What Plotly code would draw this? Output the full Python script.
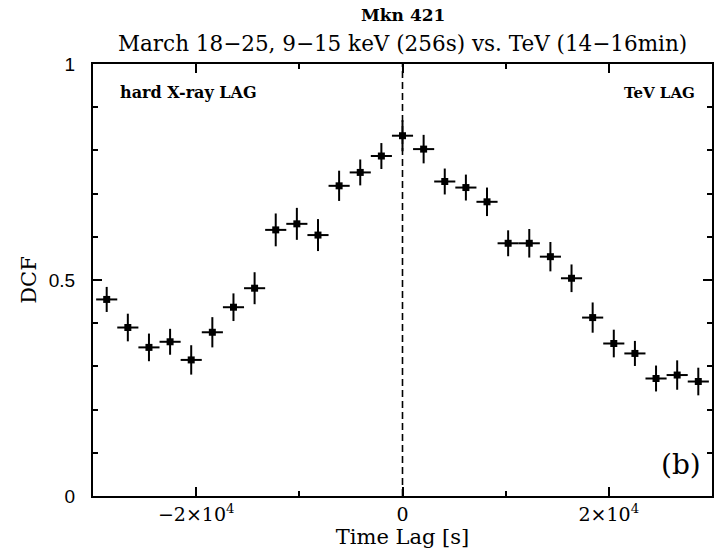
import plotly.graph_objects as go

# DCF between 9-15 keV X-rays and TeV flux, Mkn 421
bin_width = 2048  # seconds per lag bin
lag_index = list(range(-14, 15))
dcf = [0.455, 0.390, 0.344, 0.357, 0.315, 0.379, 0.437, 0.481,
       0.616, 0.630, 0.604, 0.718, 0.749, 0.787, 0.834,
       0.803, 0.728, 0.714, 0.681, 0.585, 0.585, 0.554, 0.504,
       0.413, 0.353, 0.330, 0.272, 0.280, 0.265]
dcf_err = [0.029, 0.032, 0.032, 0.030, 0.034, 0.035, 0.032, 0.037,
           0.038, 0.037, 0.037, 0.035, 0.030, 0.030, 0.036,
           0.033, 0.030, 0.030, 0.033, 0.030, 0.033, 0.034, 0.032,
           0.035, 0.032, 0.029, 0.030, 0.034, 0.032]

lag = [k * bin_width for k in lag_index]
lag_err = [bin_width / 2] * len(lag)

x_major = [-2e4, 0, 2e4]
x_major_text = ["\u22122\u00d710<sup>4</sup>", "0", "2\u00d710<sup>4</sup>"]
x_minor = [-1e4, 1e4]
y_major = [0, 0.5, 1]
y_major_text = ["0", "0.5", "1"]

serif = "DejaVu Serif"

fig = go.Figure()
fig.add_trace(go.Scatter(
    x=lag, y=dcf, mode="markers",
    marker=dict(symbol="square", size=7, color="black"),
    error_x=dict(type="data", array=lag_err, color="black", thickness=2, width=0),
    error_y=dict(type="data", array=dcf_err, color="black", thickness=2, width=0),
    showlegend=False,
))

# zero-lag reference
fig.add_shape(type="line", xref="x", yref="paper", x0=0, x1=0, y0=0, y1=1,
              line=dict(color="black", width=1.6, dash="7px,4px"))

axis_common = dict(showline=True, linewidth=2, linecolor="black", mirror="ticks",
                   ticks="inside", tickwidth=2, tickcolor="black", ticklen=9,
                   showgrid=False, zeroline=False)

fig.update_xaxes(range=[-3e4, 3e4], tickmode="array", tickvals=x_major,
                 ticktext=x_major_text,
                 minor=dict(tickmode="array", tickvals=x_minor, ticks="inside",
                            ticklen=5, tickwidth=2, tickcolor="black"),
                 tickfont=dict(family=serif, size=19, color="black"),
                 title=dict(text="Time Lag [s]", standoff=4,
                            font=dict(family=serif, size=21, color="black")),
                 **axis_common)
fig.update_yaxes(range=[0, 1], tickmode="array", tickvals=y_major,
                 ticktext=y_major_text,
                 minor=dict(dtick=0.1, ticks="inside", ticklen=5, tickwidth=2,
                            tickcolor="black"),
                 tickfont=dict(family="Liberation Sans", size=19, color="black"),
                 ticklabelstandoff=12,
                 title=dict(text="DCF", standoff=6,
                            font=dict(family=serif, size=21, color="black")),
                 **axis_common)

annotations = [
    dict(text="<b>Mkn 421</b>", x=0.5, y=1, xref="paper", yref="paper",
         yanchor="middle", yshift=49, showarrow=False,
         font=dict(family=serif, size=17)),
    dict(text="March 18\u221225, 9\u221215 keV (256s) vs. TeV (14\u221216min)",
         x=0.5, y=1, xref="paper", yref="paper", yanchor="middle", yshift=21,
         showarrow=False, font=dict(family=serif, size=21.5)),
    dict(text="<b>hard X-ray LAG</b>", x=0.04, y=0.933, xref="paper", yref="paper",
         xanchor="left", yanchor="middle", showarrow=False,
         font=dict(family=serif, size=16)),
    dict(text="<b>TeV LAG</b>", x=0.975, y=0.933, xref="paper", yref="paper",
         xanchor="right", yanchor="middle", showarrow=False,
         font=dict(family=serif, size=15)),
    dict(text="(b)", x=0.985, y=0.072, xref="paper", yref="paper",
         xanchor="right", yanchor="middle", showarrow=False,
         font=dict(family=serif, size=28)),
]
fig.update_layout(
    width=719, height=558,
    margin=dict(l=93, r=5, t=64, b=62),
    paper_bgcolor="white", plot_bgcolor="white",
    font=dict(family=serif, color="black"),
    annotations=annotations,
)

fig.write_html("out.html")
